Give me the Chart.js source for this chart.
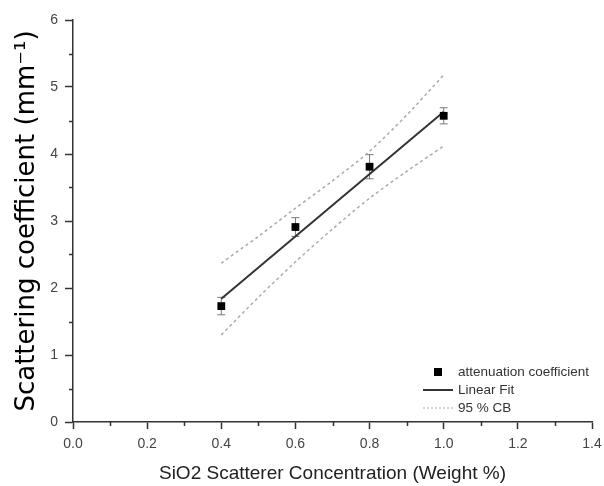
<!DOCTYPE html>
<html>
<head>
<meta charset="utf-8">
<script src="https://cdn.jsdelivr.net/npm/chart.js@4/dist/chart.umd.min.js"></script>
<style>
    html, body { margin: 0; padding: 0; background: #fff; }
    #wrap { width: 604px; height: 486px; position: relative; }
</style>
</head>
<body>
<div id="wrap"><canvas id="chart" width="604" height="486"></canvas></div>
<script>
// measured points
const concX = [0.4, 0.6, 0.8, 1.0];
const attenY = [1.73, 2.91, 3.81, 4.57];
const attenErr = [0.13, 0.14, 0.18, 0.12];

// linear fit end points
const fitX = [0.4, 1.0];
const fitY = [1.84, 4.63];

// 95 % confidence band
const bandX = [0.4, 0.5, 0.6, 0.7, 0.8, 0.9, 1.0];
const bandUpper = [2.37, 2.77, 3.19, 3.60, 4.04, 4.58, 5.18];
const bandLower = [1.30, 1.86, 2.39, 2.88, 3.34, 3.74, 4.12];

const xTicks = [0.0, 0.2, 0.4, 0.6, 0.8, 1.0, 1.2, 1.4];
const yTicks = [0, 1, 2, 3, 4, 5, 6];

const LEGEND_LABELS = ['attenuation coefficient', 'Linear Fit', '95 % CB'];

const AXIS_COLOR = '#333';

function pts(xs, ys) {
    return xs.map((x, i) => ({ x: x, y: ys[i] }));
}

const errorBars = {
    id: 'errorBars',
    beforeDatasetsDraw(chart) {
        const ctx = chart.ctx;
        const xs = chart.scales.x;
        const ys = chart.scales.y;
        ctx.save();
        ctx.strokeStyle = '#777';
        ctx.lineWidth = 1;
        concX.forEach((x, i) => {
            const px = xs.getPixelForValue(x);
            const top = ys.getPixelForValue(attenY[i] + attenErr[i]);
            const bot = ys.getPixelForValue(attenY[i] - attenErr[i]);
            ctx.beginPath();
            ctx.moveTo(px, top);
            ctx.lineTo(px, bot);
            ctx.moveTo(px - 4, top);
            ctx.lineTo(px + 4, top);
            ctx.moveTo(px - 4, bot);
            ctx.lineTo(px + 4, bot);
            ctx.stroke();
        });
        ctx.restore();
    }
};

const minorTicks = {
    id: 'minorTicks',
    afterDraw(chart) {
        const ctx = chart.ctx;
        const xs = chart.scales.x;
        const ys = chart.scales.y;
        const area = chart.chartArea;
        ctx.save();
        ctx.strokeStyle = AXIS_COLOR;
        ctx.lineWidth = 1.5;
        ctx.beginPath();
        for (let v = 0.1; v < 1.4; v += 0.2) {
            const px = Math.round(xs.getPixelForValue(v)) + 0.5;
            ctx.moveTo(px, area.bottom);
            ctx.lineTo(px, area.bottom + 4);
        }
        for (let v = 0.5; v < 6; v += 1) {
            const py = Math.round(ys.getPixelForValue(v)) + 0.5;
            ctx.moveTo(area.left, py);
            ctx.lineTo(area.left - 4, py);
        }
        ctx.stroke();
        ctx.restore();
    }
};

const legendBox = {
    id: 'legendBox',
    afterDraw(chart) {
        const ctx = chart.ctx;
        const area = chart.chartArea;
        const x0 = area.right - 169;
        const y0 = area.bottom - 50;
        const gap = 18;
        ctx.save();
        ctx.font = '13.5px "Liberation Sans", Arial, sans-serif';
        ctx.fillStyle = '#333';
        ctx.textBaseline = 'middle';
        LEGEND_LABELS.forEach((t, i) => {
            ctx.fillText(t, x0 + 35, y0 + i * gap);
        });
        // marker
        ctx.fillStyle = '#000';
        ctx.fillRect(x0 + 11, y0 - 4, 8, 8);
        // fit sample
        ctx.strokeStyle = '#333';
        ctx.lineWidth = 2;
        ctx.beginPath();
        ctx.moveTo(x0, y0 + gap);
        ctx.lineTo(x0 + 30, y0 + gap);
        ctx.stroke();
        // band sample
        ctx.strokeStyle = '#aaa';
        ctx.lineWidth = 1.2;
        ctx.setLineDash([2, 2]);
        ctx.beginPath();
        ctx.moveTo(x0, y0 + 2 * gap);
        ctx.lineTo(x0 + 30, y0 + 2 * gap);
        ctx.stroke();
        ctx.restore();
    }
};

new Chart(document.getElementById('chart'), {
    type: 'scatter',
    data: {
        datasets: [
            {
                label: LEGEND_LABELS[0],
                data: pts(concX, attenY),
                pointStyle: 'rect',
                pointRadius: 5.5,
                backgroundColor: '#000',
                borderColor: '#000',
                borderWidth: 0,
                order: 0
            },
            {
                label: LEGEND_LABELS[1],
                data: pts(fitX, fitY),
                showLine: true,
                pointRadius: 0,
                borderColor: '#333',
                borderWidth: 2,
                order: 1
            },
            {
                label: LEGEND_LABELS[2],
                data: pts(bandX, bandUpper),
                showLine: true,
                pointRadius: 0,
                borderColor: '#aaa',
                borderWidth: 1.5,
                borderDash: [3, 3],
                tension: 0.3,
                order: 2
            },
            {
                label: LEGEND_LABELS[2],
                data: pts(bandX, bandLower),
                showLine: true,
                pointRadius: 0,
                borderColor: '#aaa',
                borderWidth: 1.5,
                borderDash: [3, 3],
                tension: 0.3,
                order: 2
            }
        ]
    },
    options: {
        responsive: false,
        animation: false,
        layout: { padding: { left: 0, top: 20, right: 12, bottom: 0 } },
        plugins: {
            legend: { display: false },
            tooltip: { enabled: false }
        },
        scales: {
            x: {
                type: 'linear',
                min: 0,
                max: 1.4,
                afterBuildTicks: scale => {
                    scale.ticks = xTicks.map(v => ({ value: v }));
                },
                afterFit: scale => {
                    scale.height = 64;
                    scale.paddingLeft = 0;
                    scale.paddingRight = 0;
                },
                ticks: {
                    color: '#444',
                    font: { family: '"Liberation Sans", Arial, sans-serif', size: 14 },
                    padding: 7,
                    maxRotation: 0,
                    callback: v => Number(v).toFixed(1)
                },
                grid: {
                    drawOnChartArea: false,
                    drawTicks: true,
                    tickLength: 7,
                    tickWidth: 1.5,
                    tickColor: AXIS_COLOR
                },
                border: { display: true, color: AXIS_COLOR, width: 1.5 },
                title: {
                    display: true,
                    text: 'SiO2 Scatterer Concentration (Weight %)',
                    color: '#222',
                    font: { family: '"Liberation Sans", Arial, sans-serif', size: 19 },
                    padding: { top: 0, bottom: 1 }
                }
            },
            y: {
                type: 'linear',
                min: 0,
                max: 6,
                afterBuildTicks: scale => {
                    scale.ticks = yTicks.map(v => ({ value: v }));
                },
                afterFit: scale => {
                    scale.width = 73;
                    scale.paddingTop = 0;
                    scale.paddingBottom = 0;
                },
                ticks: {
                    color: '#444',
                    font: { family: '"Liberation Sans", Arial, sans-serif', size: 14 },
                    padding: 7,
                    callback: v => String(v)
                },
                grid: {
                    drawOnChartArea: false,
                    drawTicks: true,
                    tickLength: 8,
                    tickWidth: 1.5,
                    tickColor: AXIS_COLOR
                },
                border: { display: true, color: AXIS_COLOR, width: 1.5 },
                title: {
                    display: true,
                    text: 'Scattering coefficient (mm\u207B\u00B9)',
                    color: '#000',
                    font: { family: '"DejaVu Sans", Verdana, sans-serif', size: 26 },
                    padding: { top: 12, bottom: 0 }
                }
            }
        }
    },
    plugins: [errorBars, minorTicks, legendBox]
});
</script>
</body>
</html>
